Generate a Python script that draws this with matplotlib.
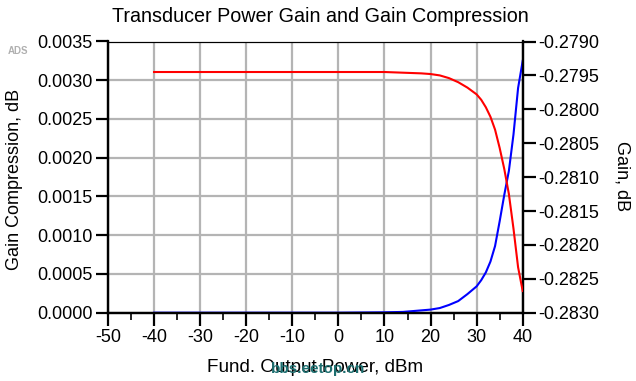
import matplotlib
matplotlib.use("Agg")
import matplotlib.pyplot as plt
from matplotlib.ticker import MultipleLocator, FormatStrFormatter

plt.rcParams['font.family'] = ['Liberation Sans', 'DejaVu Sans']
plt.rcParams['axes.unicode_minus'] = False

power_dbm = [-40, -30, -20, -10, 0, 10, 14, 18, 20, 22, 24, 26, 28, 30, 31, 32,
             33, 34, 35, 36, 37, 38, 39, 40]
gain_comp = [0.0, 0.0, 0.0, 0.0, 0.0, 0.000005, 0.00001, 0.00003, 0.00004, 0.00006,
             0.00010, 0.00015, 0.00024, 0.00034, 0.00042, 0.00052, 0.00066, 0.00086,
             0.00118, 0.00152, 0.00183, 0.00230, 0.00290, 0.00325]
gain_db = [-0.27945, -0.27945, -0.27945, -0.27945, -0.27945, -0.27945, -0.27946,
           -0.27947, -0.27948, -0.27950, -0.27954, -0.27960, -0.27968, -0.27978,
           -0.27986, -0.27997, -0.28011, -0.28030, -0.28057, -0.28088, -0.28125,
           -0.28176, -0.28233, -0.28268]

title = "Transducer Power Gain and Gain Compression"
xlabel = "Fund. Output Power, dBm"
ylabel_left = "Gain Compression, dB"
ylabel_right = "Gain, dB"

fig = plt.figure(figsize=(6.36, 3.81), dpi=100)
ax = fig.add_axes([108/636, 1-312.7/381, (522.7-108)/636, (312.7-41.5)/381])
ax2 = ax.twinx()

ax.set_xlim(-50, 40)
ax.set_ylim(0, 0.0035)
ax2.set_ylim(-0.2830, -0.2790)

ax.xaxis.set_major_locator(MultipleLocator(10))
ax.xaxis.set_minor_locator(MultipleLocator(5))
ax.yaxis.set_major_locator(MultipleLocator(0.0005))
ax.yaxis.set_major_formatter(FormatStrFormatter('%.4f'))
ax2.yaxis.set_major_locator(MultipleLocator(0.0005))
ax2.yaxis.set_major_formatter(FormatStrFormatter('%.4f'))

ax.grid(True, which='major', color='#b4b4b4', linewidth=1.6)
ax.set_axisbelow(True)

ax.plot(power_dbm, gain_comp, color='#0000ff', linewidth=1.5, zorder=3)
ax2.plot(power_dbm, gain_db, color='#ff0000', linewidth=1.5, zorder=3)

for a in (ax, ax2):
    a.spines['left'].set_linewidth(1.6)
    a.spines['right'].set_linewidth(1.6)
    a.spines['bottom'].set_linewidth(1.6)
    a.spines['top'].set_linewidth(0.8)

fs = 13
ax.tick_params(axis='x', which='major', direction='out', length=9, width=1.6, labelsize=fs, pad=3)
ax.tick_params(axis='x', which='minor', direction='out', length=5, width=1.2)
ax.tick_params(axis='y', which='major', direction='out', length=9, width=1.6, labelsize=fs, pad=2)
ax2.tick_params(axis='y', which='major', direction='out', length=9, width=1.6, labelsize=fs, pad=2)

fig.text(320/636, 1-17/381, title, ha='center', va='center', fontsize=14.2)
fig.text(315/636, 1-368/381, xlabel, ha='center', va='center', fontsize=13.6)
fig.text(15/636, 1-179/381, ylabel_left, ha='center', va='center', rotation=90, fontsize=13)
fig.text(622/636, 1-176/381, ylabel_right, ha='center', va='center', rotation=270, fontsize=13)
fig.text(18/636, 1-51/381, "ADS", ha='center', va='center', fontsize=7, color='#b0b0b0', fontweight='bold')
fig.text(318/636, 1-369/381, "bbs.eetop.cn", ha='center', va='center', fontsize=11,
         color='#1d6f70', fontweight='bold', fontstretch='condensed')

fig.savefig("out.png", dpi=100)
